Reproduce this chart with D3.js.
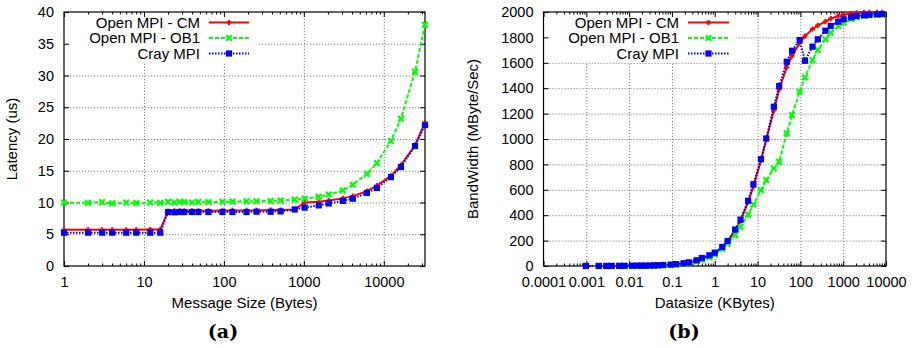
<!DOCTYPE html>
<html><head><meta charset="utf-8">
<script src="https://cdn.jsdelivr.net/npm/d3@7"></script>
<style>
body{margin:0;background:#fff}
svg{display:block}
</style>
</head><body>
<svg id="c" width="915" height="348"></svg>
<script>
// ---------- (a) Latency ----------
const latSizes = [1,2,3,4,6,8,12,16,20,24,28,32,40,48,64,96,128,192,256,384,512,768,1024,1536,2048,3072,4096,6144,8192,12288,16384,24576,32768];
const latCM   = [5.7,5.7,5.7,5.7,5.7,5.7,5.75,5.75,8.6,8.7,8.7,8.7,8.7,8.7,8.7,8.75,8.75,8.75,8.75,8.8,8.8,8.9,10.0,10.1,10.3,10.65,11.0,11.8,12.65,14.2,15.9,19.0,22.6];
const latOB1  = [10.0,9.95,10.05,9.85,10.0,9.9,10.0,9.95,10.1,10.0,10.1,10.05,10.0,10.1,10.05,10.1,10.15,10.2,10.2,10.25,10.3,10.45,10.6,10.9,11.25,11.9,12.8,14.5,16.2,19.7,23.2,30.6,38.0];
const latCray  = [5.25,5.25,5.25,5.25,5.25,5.25,5.25,5.25,8.5,8.45,8.5,8.5,8.5,8.5,8.5,8.5,8.5,8.5,8.55,8.55,8.6,8.9,9.2,9.55,9.85,10.25,10.6,11.5,12.3,14.0,15.6,18.9,22.2];
const latXTicks = [1,10,100,1000,10000];
const latXTickLabels = ["1","10","100","1000","10000"];
const latYTicks = [0,5,10,15,20,25,30,35,40];

// ---------- (b) Bandwidth ----------
const bwSizesKB = [0.00098,0.00195,0.00293,0.0039,0.00586,0.00781,0.0117,0.0156,0.0195,0.0234,0.03125,0.039,0.0469,0.0625,0.09375,0.125,0.1875,0.25,0.375,0.5,0.75,1,1.5,2,3,4,6,8,12,16,24,32,48,64,96,128,192,256,384,512,768,1024,1536,2048,3072,4096,6144,8192];
const bwCM   = [0.17,0.34,0.5,0.67,1.0,1.35,2.0,2.7,2.2,2.7,3.5,4.4,5.2,7.0,10.5,14,21,28,42,57,82,100,145,192,280,355,505,625,830,995,1225,1390,1565,1655,1755,1810,1866,1895,1925,1948,1968,1979,1988,1993,1996,1997,1998,1998];
const bwOB1  = [0.1,0.2,0.29,0.39,0.58,0.77,1.15,1.5,1.9,2.3,3.1,3.8,4.6,6.1,9.1,12,18,24,36,48,70,92,135,178,242,308,405,484,597,676,768,820,1044,1188,1372,1485,1622,1700,1785,1837,1890,1916,1943,1960,1970,1976,1980,1983];
const bwCray = [0.2,0.4,0.55,0.75,1.1,1.5,2.2,2.9,2.3,2.8,3.7,4.6,5.5,7.3,11,14.5,22,29,45,63,84,105,150,197,287,365,513,644,841,1004,1254,1417,1608,1695,1779,1616,1727,1785,1853,1890,1924,1943,1958,1968,1974,1978,1981,1983];
const bwXTicks = [0.0001,0.001,0.01,0.1,1,10,100,1000,10000];
const bwXTickLabels = ["0.0001","0.001","0.01","0.1","1","10","100","1000","10000"];
const bwYTicks = [0,200,400,600,800,1000,1200,1400,1600,1800,2000];

const seriesNames = ["Open MPI - CM","Open MPI - OB1","Cray MPI"];

const FONT = "'Liberation Sans', Arial, Helvetica, sans-serif";
const styles = [
  {color:"#ff0000", dash:null,      marker:"plus"},
  {color:"#00ff00", dash:"4,2",     marker:"cross"},
  {color:"#0000ff", dash:"1.5,1.5", marker:"square"}
];

const svg = d3.select("#c");
svg.append("rect").attr("width",915).attr("height",348).attr("fill","#fff");

function drawMarker(g, type, cx, cy, color){
  if(type==="plus"){
    g.append("path").attr("d",`M${cx-2.6},${cy}H${cx+2.6}M${cx},${cy-2.6}V${cy+2.6}`)
      .attr("stroke",color).attr("stroke-width",2).attr("fill","none");
  } else if(type==="cross"){
    g.append("path").attr("d",`M${cx-2.8},${cy-2.8}L${cx+2.8},${cy+2.8}M${cx-2.8},${cy+2.8}L${cx+2.8},${cy-2.8}`)
      .attr("stroke",color).attr("stroke-width",2.2).attr("fill","none");
  } else {
    g.append("rect").attr("x",cx-3.1).attr("y",cy-3.1).attr("width",6.2).attr("height",6.2).attr("fill",color);
  }
}

function minorTicks(domain){
  const out=[];
  const e0=Math.floor(Math.log10(domain[0])), e1=Math.ceil(Math.log10(domain[1]));
  for(let e=e0;e<=e1;e++){
    for(let k=2;k<=9;k++){
      const v=k*Math.pow(10,e);
      if(v>domain[0]*1.0001 && v<domain[1]*0.9999) out.push(v);
    }
  }
  return out;
}

function drawPanel(o){
  const g = svg.append("g");
  const x = d3.scaleLog().domain(o.xDomain).range([o.left,o.right]);
  const y = d3.scaleLinear().domain(o.yDomain).range([o.bottom,o.top]);
  const W = o.right-o.left, H = o.bottom-o.top;

  // grid
  const gx = g.append("g").attr("transform",`translate(0,${o.bottom})`)
    .call(d3.axisBottom(x).tickValues(o.xTicks.filter(t=>t>o.xDomain[0]*1.0001 && t<o.xDomain[1]*0.9999)).tickSize(-H).tickFormat(""));
  const gy = g.append("g").attr("transform",`translate(${o.left},0)`)
    .call(d3.axisLeft(y).tickValues(o.yTicks.filter(t=>t>o.yDomain[0] && t<o.yDomain[1])).tickSize(-W).tickFormat(""));
  [gx,gy].forEach(a=>{
    a.select(".domain").remove();
    a.selectAll("line").attr("stroke","#808080").attr("stroke-width",1).attr("stroke-dasharray","1.2,1.8");
  });

  // legend box (opaque)
  g.append("rect").attr("x",o.left+0.5).attr("y",o.top+0.5)
    .attr("width",o.legendBoxRight-o.left).attr("height",50).attr("fill","#fff");

  // major / minor ticks on all four sides
  const tk = 5, mtk = 2.5;
  const axes = [
    g.append("g").attr("transform",`translate(0,${o.bottom})`).call(d3.axisBottom(x).tickValues(o.xTicks).tickSizeInner(-tk).tickSizeOuter(0).tickPadding(10.5).tickFormat((d,i)=>o.xTickLabels[i])),
    g.append("g").attr("transform",`translate(0,${o.top})`).call(d3.axisTop(x).tickValues(o.xTicks).tickSizeInner(-tk).tickSizeOuter(0).tickFormat("")),
    g.append("g").attr("transform",`translate(0,${o.bottom})`).call(d3.axisBottom(x).tickValues(minorTicks(o.xDomain)).tickSizeInner(-mtk).tickSizeOuter(0).tickFormat("")),
    g.append("g").attr("transform",`translate(0,${o.top})`).call(d3.axisTop(x).tickValues(minorTicks(o.xDomain)).tickSizeInner(-mtk).tickSizeOuter(0).tickFormat("")),
    g.append("g").attr("transform",`translate(${o.left},0)`).call(d3.axisLeft(y).tickValues(o.yTicks).tickSizeInner(-tk).tickSizeOuter(0).tickPadding(10).tickFormat(d3.format("d"))),
    g.append("g").attr("transform",`translate(${o.right},0)`).call(d3.axisRight(y).tickValues(o.yTicks).tickSizeInner(-tk).tickSizeOuter(0).tickFormat(""))
  ];
  axes.forEach(a=>{
    a.select(".domain").remove();
    a.selectAll("line").attr("stroke","#000").attr("stroke-width",1);
    a.selectAll("text").attr("font-family",FONT).attr("font-size",14.5).attr("fill","#000");
  });

  // frame
  g.append("rect").attr("x",o.left).attr("y",o.top).attr("width",W).attr("height",H)
    .attr("fill","none").attr("stroke","#000").attr("stroke-width",1.2);

  // series
  const line = d3.line().x(d=>x(d[0])).y(d=>y(d[1]));
  o.series.forEach((vals,si)=>{
    const st = styles[si];
    const pts = o.xs.map((xv,i)=>[xv,vals[i]]);
    const p = g.append("path").attr("d",line(pts)).attr("fill","none")
      .attr("stroke",st.color).attr("stroke-width",2);
    if(st.dash) p.attr("stroke-dasharray",st.dash);
    const mg = g.append("g");
    pts.forEach(d=>drawMarker(mg, st.marker, x(d[0]), y(d[1]), st.color));
  });

  // legend
  const rows = [o.top+10.5, o.top+26, o.top+41.5];
  seriesNames.forEach((nm,i)=>{
    const st = styles[i];
    g.append("text").attr("x",o.legendTextRight).attr("y",rows[i]).attr("dy","0.35em")
      .attr("text-anchor","end").attr("font-family",FONT).attr("font-size",15).text(nm);
    const l = g.append("line").attr("x1",o.legendLine[0]).attr("x2",o.legendLine[1])
      .attr("y1",rows[i]).attr("y2",rows[i]).attr("stroke",st.color).attr("stroke-width",2);
    if(st.dash) l.attr("stroke-dasharray",st.dash);
    drawMarker(g, st.marker, (o.legendLine[0]+o.legendLine[1])/2, rows[i], st.color);
  });

  // titles
  g.append("text").attr("x",(o.left+o.right)/2).attr("y",308).attr("text-anchor","middle")
    .attr("font-family",FONT).attr("font-size",15).text(o.xTitle);
  g.append("text").attr("transform",`translate(${o.yTitleX},${(o.top+o.bottom)/2}) rotate(-90)`)
    .attr("text-anchor","middle").attr("dy","0.35em").attr("font-family",FONT).attr("font-size",15).text(o.yTitle);
  g.append("text").attr("x",o.subX).attr("y",338).attr("text-anchor","middle")
    .attr("font-family","'DejaVu Serif', serif").attr("font-weight","bold").attr("font-size",19).text(o.sub);
}

drawPanel({
  left:64, right:425, top:12, bottom:266,
  xDomain:[1,32768], yDomain:[0,40],
  xTicks:latXTicks, xTickLabels:latXTickLabels, yTicks:latYTicks,
  xs:latSizes, series:[latCM,latOB1,latCray],
  legendTextRight:200, legendLine:[209,249], legendBoxRight:258,
  xTitle:"Message Size (Bytes)", yTitle:"Latency (us)", yTitleX:12,
  sub:"(a)", subX:223
});
drawPanel({
  left:543.5, right:886, top:12, bottom:266,
  xDomain:[0.0001,10000], yDomain:[0,2000],
  xTicks:bwXTicks, xTickLabels:bwXTickLabels, yTicks:bwYTicks,
  xs:bwSizesKB, series:[bwCM,bwOB1,bwCray],
  legendTextRight:679, legendLine:[688,729], legendBoxRight:736,
  xTitle:"Datasize (KBytes)", yTitle:"BandWidth (MByte/Sec)", yTitleX:473,
  sub:"(b)", subX:684
});
</script>
</body></html>
